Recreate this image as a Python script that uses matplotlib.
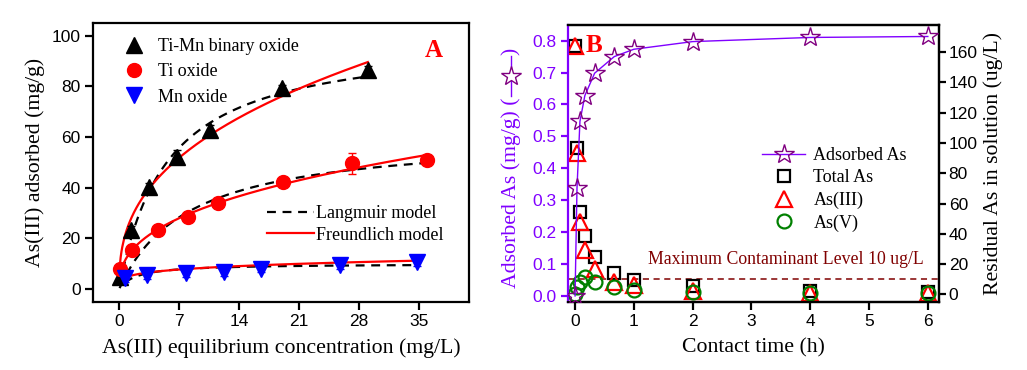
import numpy as np
import matplotlib
matplotlib.use("Agg")
import matplotlib.pyplot as plt
from matplotlib.lines import Line2D

# ---------------- Data: panel A (isotherms) ----------------
timn_C = [0.08, 1.37, 3.5, 6.8, 10.6, 19.0, 29.0]
timn_q = [4.9, 23.3, 40.4, 52.2, 62.8, 79.2, 86.5]
timn_err = [1.0, 1.5, 1.5, 2.5, 2.0, 1.5, 1.5]

ti_C = [0.05, 1.52, 4.48, 8.05, 11.55, 19.1, 27.1, 35.9]
ti_q = [8.1, 15.4, 23.3, 28.3, 34.1, 42.1, 49.6, 50.9]
ti_err = [1.0, 1.0, 1.0, 1.0, 1.0, 1.5, 4.0, 1.5]

mn_C = [0.66, 3.3, 7.8, 12.25, 16.6, 25.7, 34.7]
mn_q = [4.2, 5.5, 6.2, 6.8, 8.1, 9.5, 10.5]
mn_err = [1.5, 1.5, 1.5, 1.5, 1.5, 1.5, 1.5]

# model parameters (Langmuir: qm, b ; Freundlich: K, 1/n)
timn_lang = (100.0, 0.18)
timn_freu = (24.5, 0.385)
ti_lang = (61.0, 0.124)
ti_freu = (13.1, 0.39)
mn_lang = (10.0, 0.5)
mn_freu = (4.92, 0.232)

# ---------------- Data: panel B (kinetics) ----------------
t_h = [0, 0.033, 0.083, 0.167, 0.333, 0.667, 1, 2, 4, 6]
adsorbed = [0.0, 0.338, 0.547, 0.628, 0.698, 0.75, 0.773, 0.797, 0.81, 0.813]
total_as = [164.2, 96.5, 54.6, 38.5, 24.5, 13.9, 9.5, 5.5, 2.4, 1.7]
as3 = [164.0, 93.2, 48.0, 29.3, 16.5, 8.3, 6.1, 2.4, 1.1, 0.6]
as5 = [0.0, 4.6, 8.3, 11.2, 8.3, 5.0, 2.8, 1.7, 1.0, 0.8]
mcl = 10

VIOLET = "#8000FF"
PURPLE = "#800080"
MAROON = "#800000"

SERIF = ["Liberation Serif", "DejaVu Serif"]
SANS = ["Liberation Sans", "DejaVu Sans"]

plt.rcParams["font.family"] = SANS
plt.rcParams["axes.linewidth"] = 1.6

W, H = 1027, 370
fig = plt.figure(figsize=(W / 100, H / 100), dpi=100)


def fx(px):
    return px / W


def fy(py):
    return 1 - py / H


TICK_FS = 12.5
LAB_FS = 15.7

# ================= Panel A =================
axA = fig.add_axes([fx(93), fy(302), fx(469) - fx(93), fy(23) - fy(302)])
axA.set_xlim(-3.05, 40.8)
axA.set_ylim(-5.1, 105)

def langmuir(C, p):
    qm, b = p
    C = np.asarray(C)
    return qm * b * C / (1 + b * C)

def freundlich(C, p):
    K, m = p
    return K * np.asarray(C) ** m

for Cs, lp, fp in [(timn_C, timn_lang, timn_freu), (ti_C, ti_lang, ti_freu), (mn_C, mn_lang, mn_freu)]:
    cc = np.linspace(Cs[0], Cs[-1], 300)
    axA.plot(cc, langmuir(cc, lp), color="black", ls=(0, (4, 3)), lw=1.6, zorder=2)
    axA.plot(cc, freundlich(cc, fp), color="red", ls="-", lw=1.6, zorder=3)

axA.errorbar(timn_C, timn_q, yerr=timn_err, fmt="^", color="black", ms=11, capsize=3, elinewidth=1, zorder=4)
axA.errorbar(ti_C, ti_q, yerr=ti_err, fmt="o", color="red", ms=10, capsize=3, elinewidth=1, zorder=4)
axA.errorbar(mn_C, mn_q, yerr=mn_err, fmt="v", color="blue", ms=11, capsize=3, elinewidth=1, zorder=4)

axA.set_xticks([0, 7, 14, 21, 28, 35])
axA.set_yticks([0, 20, 40, 60, 80, 100])
axA.tick_params(direction="out", length=6, width=1.6, labelsize=TICK_FS, pad=3, top=False, right=False)
axA.set_xlabel("As(III) equilibrium concentration (mg/L)", family=SERIF, fontsize=LAB_FS, labelpad=6)
axA.set_ylabel("As(III) adsorbed (mg/g)", family=SERIF, fontsize=LAB_FS, labelpad=5)

hA = [Line2D([], [], ls="none", marker="^", color="black", ms=11),
      Line2D([], [], ls="none", marker="o", color="red", ms=10),
      Line2D([], [], ls="none", marker="v", color="blue", ms=11)]
legA = axA.legend(hA, ["Ti-Mn binary oxide", "Ti oxide", "Mn oxide"], loc="upper left",
                  bbox_to_anchor=(fx(125), fy(38)), bbox_transform=fig.transFigure,
                  frameon=False, prop={"family": SERIF, "size": 13}, handlelength=1.0,
                  handletextpad=0.8, labelspacing=0.46, borderaxespad=0, borderpad=0)
axA.add_artist(legA)
hL = [Line2D([], [], color="black", ls=(0, (4, 3)), lw=1.6),
      Line2D([], [], color="red", ls="-", lw=1.6)]
axA.legend(hL, ["Langmuir model", "Freundlich model"], loc="upper left",
           bbox_to_anchor=(fx(267), fy(205)), bbox_transform=fig.transFigure,
           frameon=False, prop={"family": SERIF, "size": 13}, handlelength=2.6,
           handletextpad=0.1, labelspacing=0.25, borderaxespad=0, borderpad=0)
axA.text(0.905, 0.9, "A", transform=axA.transAxes, color="red", fontsize=18, fontweight="bold",
         family=SERIF, ha="center", va="center")

# ================= Panel B =================
axB = fig.add_axes([fx(568), fy(302), fx(939) - fx(568), fy(25) - fy(302)])
axB2 = axB.twinx()
axB.set_xlim(-0.12, 6.19)
axB.set_ylim(-0.019, 0.849)
axB2.set_ylim(-5.1, 178)

axB2.axhline(mcl, color=MAROON, ls=(0, (4, 3)), lw=1.1, zorder=1)
axB2.text(1.24, 23, "Maximum Contaminant Level 10 ug/L", color=MAROON, family=SERIF, fontsize=12.8,
          ha="left", va="center")

axB2.plot(t_h, total_as, ls="none", marker="s", ms=9, mfc="none", mec="black", mew=1.6, zorder=3)
axB2.plot(t_h, as3, ls="none", marker="^", ms=11, mfc="none", mec="red", mew=1.6, zorder=4)
axB2.plot(t_h, as5, ls="none", marker="o", ms=10, mfc="none", mec="green", mew=1.6, zorder=5)

axB.set_zorder(axB2.get_zorder() + 1)
axB.patch.set_visible(False)
axB.plot(t_h, adsorbed, color=VIOLET, lw=1, marker="*", ms=15, mfc="none", mec=PURPLE, mew=1.0, zorder=5)

axB.set_xticks(range(0, 7))
axB.set_yticks(np.round(np.arange(0, 0.81, 0.1), 1))
axB.yaxis.set_major_formatter(matplotlib.ticker.FormatStrFormatter("%.1f"))
axB2.set_yticks(range(0, 161, 20))
axB.tick_params(axis="x", direction="out", length=6, width=1.6, labelsize=TICK_FS, pad=3)
axB.tick_params(axis="y", direction="out", length=5, width=1.6, labelsize=TICK_FS, pad=3,
                colors=VIOLET, labelcolor=VIOLET)
axB2.tick_params(axis="y", direction="out", length=5, width=1.6, labelsize=TICK_FS, pad=2)
axB.spines["left"].set_color(VIOLET)
axB2.spines["left"].set_visible(False)
axB.set_xlabel("Contact time (h)", family=SERIF, fontsize=LAB_FS, labelpad=6)
axB2.set_ylabel("Residual As in solution (ug/L)", family=SERIF, fontsize=LAB_FS, labelpad=4)

# left y label composed with line/star symbol
fig.text(fx(511), fy(98), "Adsorbed As (mg/g) (", rotation=90, family=SERIF, fontsize=LAB_FS,
         color=VIOLET, ha="center", va="top")
fig.add_artist(Line2D([fx(511), fx(511)], [fy(96), fy(56)], transform=fig.transFigure,
                      color=VIOLET, lw=1))
fig.add_artist(Line2D([fx(511)], [fy(76)], transform=fig.transFigure, ls="none", marker="*",
                      ms=15, mfc="white", mec=PURPLE, mew=1.0))
fig.text(fx(511), fy(55), ")", rotation=90, family=SERIF, fontsize=LAB_FS, color=VIOLET,
         ha="center", va="bottom")

hB = [Line2D([], [], color=VIOLET, lw=1, marker="*", ms=15, mfc="none", mec=PURPLE, mew=1.0),
      Line2D([], [], ls="none", marker="s", ms=9, mfc="none", mec="black", mew=1.6),
      Line2D([], [], ls="none", marker="^", ms=11, mfc="none", mec="red", mew=1.6),
      Line2D([], [], ls="none", marker="o", ms=10, mfc="none", mec="green", mew=1.6)]
axB.legend(hB, ["Adsorbed As", "Total As", "As(III)", "As(V)"], loc="upper left",
           bbox_to_anchor=(fx(762), fy(147)), bbox_transform=fig.transFigure,
           frameon=False, prop={"family": SERIF, "size": 13}, handlelength=2.4,
           handletextpad=0.45, labelspacing=0.3, borderaxespad=0, borderpad=0)
axB.text(fx(594), fy(45), "B", transform=fig.transFigure, color="red", fontsize=18, fontweight="bold",
         family=SERIF, ha="center", va="center")

fig.savefig("out.png", dpi=100)
